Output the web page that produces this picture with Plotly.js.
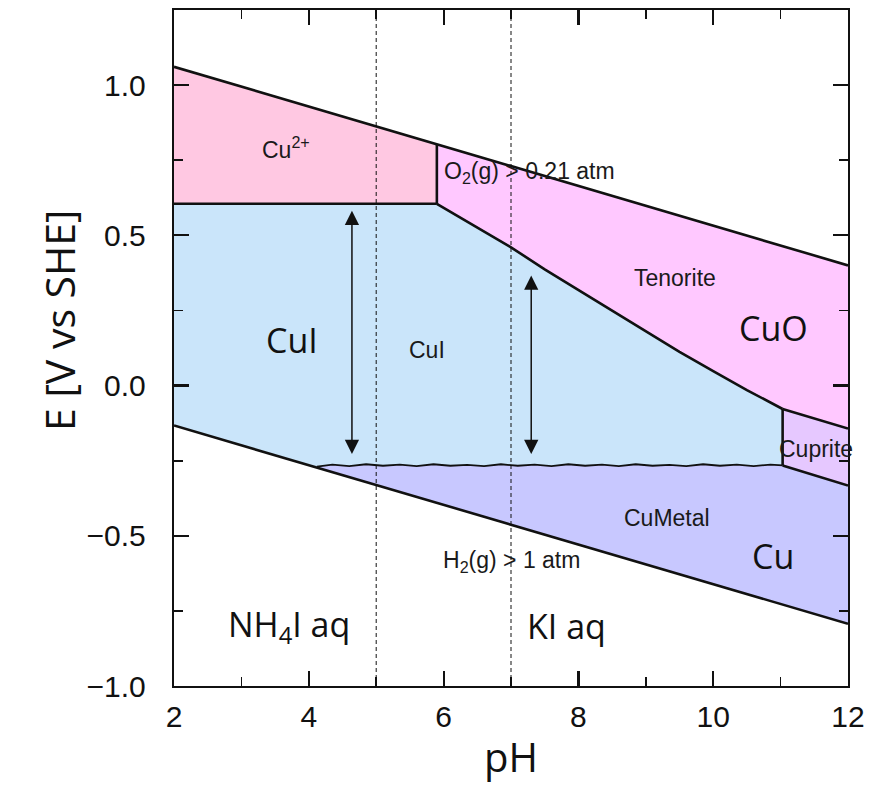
<!DOCTYPE html>
<html>
<head>
<meta charset="utf-8">
<script src="https://cdn.plot.ly/plotly-3.0.1.min.js"></script>
<style>html,body{margin:0;padding:0;background:#fff;}</style>
</head>
<body>
<div id="chart" style="width:877px;height:801px;"></div>
<script>
// ---- Pourbaix diagram data: Cu–I–H2O, E [V vs SHE] against pH ----

// Water stability limits
const waterPH = [2, 12];
const o2LineE = [1.061, 0.40];
const h2LineE = [-0.133, -0.793];

// Cu2+ / CuI boundary (horizontal) and Cu2+ / Tenorite boundary (vertical)
const cu2CuiPH = [2, 5.9];
const cu2CuiE = [0.605, 0.605];
const cu2TenPH = [5.9, 5.9];
const cu2TenE = [0.605, 0.804];

// CuI / Tenorite boundary
const cuiTenPH = [5.9, 6.5, 7.0, 7.5, 8.0, 8.5, 9.0, 9.5, 10.0, 10.5, 11.03];
const cuiTenE = [0.605, 0.525, 0.46, 0.387, 0.318, 0.248, 0.18, 0.112, 0.048, -0.015, -0.078];

// CuI / Cu metal boundary (slightly ragged)
const cuiCuPH = [4.12, 4.35, 4.6, 4.85, 5.1, 5.35, 5.6, 5.85, 6.1, 6.35, 6.6, 6.85, 7.1, 7.35,
                 7.6, 7.85, 8.1, 8.35, 8.6, 8.85, 9.1, 9.35, 9.6, 9.85, 10.1, 10.35, 10.6, 10.85, 11.03];
const cuiCuE = [-0.270, -0.263, -0.268, -0.262, -0.267, -0.263, -0.268, -0.262, -0.267, -0.264, -0.268,
                -0.262, -0.267, -0.263, -0.268, -0.262, -0.267, -0.263, -0.268, -0.262, -0.267, -0.264,
                -0.268, -0.262, -0.267, -0.263, -0.268, -0.263, -0.266];

// Cuprite field boundaries
const cupVertPH = [11.03, 11.03];
const cupVertE = [-0.078, -0.266];
const tenCupPH = [11.03, 12];
const tenCupE = [-0.078, -0.143];
const cupCuPH = [11.03, 12];
const cupCuE = [-0.266, -0.333];

// Region labels
const fieldLabels = [
  {text: 'Cu<sup>2+</sup>', ph: 3.66, e: 0.79},
  {text: 'Tenorite', ph: 9.43, e: 0.358},
  {text: 'CuI', ph: 5.76, e: 0.12},
  {text: 'Cuprite', ph: 11.52, e: -0.21},
  {text: 'CuMetal', ph: 9.32, e: -0.441}
];
const phaseLabels = [
  {text: 'CuO', ph: 10.89, e: 0.191},
  {text: 'CuI', ph: 3.75, e: 0.150},
  {text: 'Cu', ph: 10.88, e: -0.566},
  {text: 'NH<sub>4</sub>I aq', ph: 3.71, e: -0.80},
  {text: 'KI aq', ph: 7.82, e: -0.80}
];

// Electrolyte pH markers and potential-window arrows
const electrolytePH = [5, 7];
const windowArrows = [
  {ph: 4.64, top: 0.582, bottom: -0.233},
  {ph: 7.30, top: 0.366, bottom: -0.233}
];

// ---- field polygons ----
const rev = a => a.slice().reverse();
const h2At = ph => h2LineE[0] + (h2LineE[1] - h2LineE[0]) * (ph - waterPH[0]) / (waterPH[1] - waterPH[0]);

const cu2Poly = {
  x: [cu2CuiPH[0], waterPH[0], cu2TenPH[1], cu2CuiPH[1]],
  y: [cu2CuiE[0], o2LineE[0], cu2TenE[1], cu2CuiE[1]]
};
const tenPoly = {
  x: [cu2TenPH[0], cu2TenPH[1], waterPH[1], tenCupPH[1], tenCupPH[0]].concat(rev(cuiTenPH)),
  y: [cu2TenE[0], cu2TenE[1], o2LineE[1], tenCupE[1], tenCupE[0]].concat(rev(cuiTenE))
};
const cuiPoly = {
  x: [cu2CuiPH[0]].concat(cuiTenPH, [cupVertPH[1]], rev(cuiCuPH), [waterPH[0]]),
  y: [cu2CuiE[0]].concat(cuiTenE, [cupVertE[1]], rev(cuiCuE), [h2LineE[0]])
};
const cupPoly = {
  x: [tenCupPH[0], tenCupPH[1], cupCuPH[1], cupCuPH[0]],
  y: [tenCupE[0], tenCupE[1], cupCuE[1], cupCuE[0]]
};
const cuPoly = {
  x: cuiCuPH.concat([cupCuPH[1], waterPH[1], cuiCuPH[0]]),
  y: cuiCuE.concat([cupCuE[1], h2LineE[1], h2At(cuiCuPH[0])])
};

function fill(poly, color) {
  return {x: poly.x, y: poly.y, mode: 'lines', fill: 'toself', fillcolor: color,
          line: {width: 0, color: color}, hoverinfo: 'skip', showlegend: false};
}
function edge(x, y, w) {
  return {x: x, y: y, mode: 'lines', line: {color: '#111', width: w || 2.6},
          hoverinfo: 'skip', showlegend: false};
}

const traces = [
  fill(cu2Poly, '#FFC8E2'),
  fill(tenPoly, '#FFC8FF'),
  fill(cuiPoly, '#CAE5FA'),
  fill(cupPoly, '#E6C8FF'),
  fill(cuPoly, '#C8C8FF'),
  edge(waterPH, o2LineE),
  edge(waterPH, h2LineE),
  edge(cu2CuiPH, cu2CuiE),
  edge(cu2TenPH, cu2TenE),
  edge(cuiTenPH, cuiTenE),
  edge(cuiCuPH, cuiCuE, 1.8),
  edge(cupVertPH, cupVertE),
  edge(tenCupPH, tenCupE),
  edge(cupCuPH, cupCuE)
];

const smallFont = {family: 'Liberation Sans, Arial, sans-serif', size: 23, color: '#1a1a1a'};
const bigFont = {family: 'Open Sans, sans-serif', size: 34, color: '#111'};

const annotations = [];
fieldLabels.forEach(l => annotations.push({
  x: l.ph, y: l.e, xref: 'x', yref: 'y', text: l.text, showarrow: false, font: smallFont
}));
annotations.push({
  x: 5.98, y: 0.709, xref: 'x', yref: 'y', xanchor: 'left', text: 'O<sub>2</sub>(g) > 0.21 atm',
  showarrow: false, font: smallFont
});
annotations.push({
  x: 7.0, y: -0.585, xref: 'x', yref: 'y', text: 'H<sub>2</sub>(g) > 1 atm',
  showarrow: false, font: smallFont
});
phaseLabels.forEach(l => annotations.push({
  x: l.ph, y: l.e, xref: 'x', yref: 'y', text: l.text, showarrow: false, font: bigFont
}));
windowArrows.forEach(a => annotations.push({
  x: a.ph, y: a.top, ax: a.ph, ay: a.bottom, xref: 'x', yref: 'y', axref: 'x', ayref: 'y',
  text: '', showarrow: true, arrowside: 'end+start', arrowhead: 2, startarrowhead: 2,
  arrowsize: 1.9, startarrowsize: 1.9, arrowwidth: 1.5, arrowcolor: '#111', standoff: 0, startstandoff: 0
}));
// vertical axis title
annotations.push({
  x: 29, y: 320, xref: 'paper', yref: 'paper', text: 'E [V vs SHE]', textangle: -90,
  showarrow: false, font: {family: 'Open Sans, sans-serif', size: 41, color: '#111'}
});

const shapes = electrolytePH.map(ph => ({
  type: 'line', xref: 'x', yref: 'paper', x0: ph, x1: ph, y0: 0, y1: 1,
  line: {color: '#111', width: 1, dash: '4px,3px'}
}));

const W = 877, H = 801;
const margin = {l: 174, r: 29, t: 10, b: 115};
// convert pixel positions of the vertical title into paper fractions
const axTitle = annotations[annotations.length - 1];
const pw = W - margin.l - margin.r, ph = H - margin.t - margin.b;
axTitle.x = (axTitle.x - margin.l) / pw;
axTitle.y = (H - margin.b - axTitle.y) / ph;

const tickFont = {family: 'Liberation Sans, Arial, sans-serif', size: 30, color: '#111'};

const layout = {
  width: W, height: H, margin: margin,
  paper_bgcolor: '#fff', plot_bgcolor: '#fff',
  showlegend: false,
  xaxis: {
    range: [2, 12], dtick: 2, tick0: 2, ticks: 'inside', ticklen: 15, tickwidth: 2.2, tickcolor: '#111',
    minor: {dtick: 1, ticks: 'inside', ticklen: 9, tickwidth: 1.8, tickcolor: '#111'},
    showline: true, linewidth: 2.2, linecolor: '#111', mirror: 'allticks',
    showgrid: false, zeroline: false, tickfont: tickFont, ticklabelstandoff: 3,
    title: {text: 'pH', font: {family: 'Open Sans, sans-serif', size: 40, color: '#111'}, standoff: 12},
    automargin: false, fixedrange: true
  },
  yaxis: {
    range: [-1, 1.25], dtick: 0.5, tick0: 0, tickformat: '.1f', ticks: 'inside', ticklen: 15, tickwidth: 2.2,
    tickcolor: '#111',
    minor: {dtick: 0.25, ticks: 'inside', ticklen: 9, tickwidth: 1.8, tickcolor: '#111'},
    showline: true, linewidth: 2.2, linecolor: '#111', mirror: 'allticks',
    showgrid: false, zeroline: false, tickfont: tickFont, ticklabelstandoff: 20,
    automargin: false, fixedrange: true
  },
  annotations: annotations,
  shapes: shapes
};

Plotly.newPlot('chart', traces, layout, {displayModeBar: false, staticPlot: true});
</script>
</body>
</html>
